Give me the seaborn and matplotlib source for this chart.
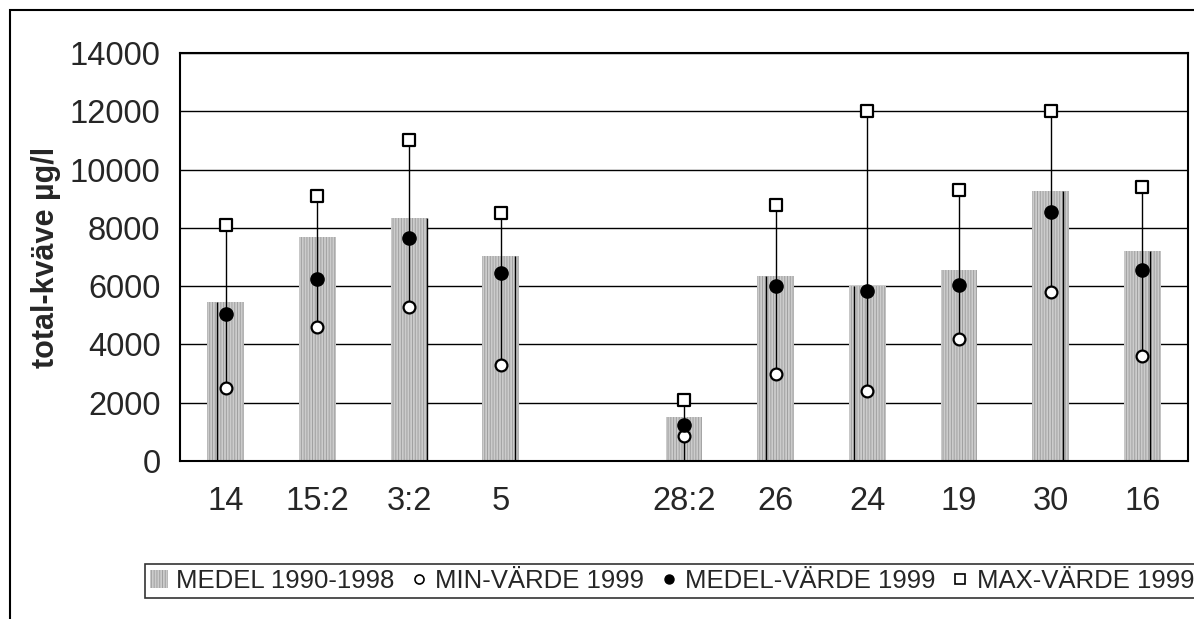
import matplotlib
matplotlib.use("Agg")
import matplotlib.pyplot as plt
import seaborn as sns
import pandas as pd
import numpy as np
from matplotlib.patches import Patch, Rectangle
from matplotlib.lines import Line2D

# ---- data ----
order = ["14", "15:2", "3:2", "5", " ", "28:2", "26", "24", "19", "30", "16"]
stations = ["14", "15:2", "3:2", "5", "28:2", "26", "24", "19", "30", "16"]
medel_90_98 = [5450, 7700, 8350, 7050, 1500, 6350, 6000, 6550, 9250, 7200]
min_1999 = [2500, 4600, 5300, 3300, 870, 3000, 2400, 4200, 5800, 3600]
medel_1999 = [5030, 6250, 7650, 6450, 1250, 6000, 5850, 6050, 8550, 6550]
max_1999 = [8100, 9100, 11000, 8500, 2100, 8800, 12000, 9300, 12000, 9400]
yticks = [0, 2000, 4000, 6000, 8000, 10000, 12000, 14000]
ylabel = "total-kväve µg/l"
legend_labels = ["MEDEL 1990-1998", "MIN-VÄRDE 1999", "MEDEL-VÄRDE 1999", "MAX-VÄRDE 1999"]

# style only: horizontal offsets of the dark drop lines inside the bars (fraction of slot)
drop_offsets = [-0.10, None, 0.20, 0.16, 0.0, -0.11, -0.15, None, 0.14, 0.08]

df = pd.DataFrame({"station": stations, "medel": medel_90_98, "min": min_1999,
                   "mean": medel_1999, "max": max_1999})

sns.set_theme(style="white")
plt.rcParams["font.family"] = ["Liberation Sans", "DejaVu Sans"]
plt.rcParams["hatch.linewidth"] = 0.7
plt.rcParams["hatch.color"] = "#a0a0a0"

fig = plt.figure(figsize=(11.94, 6.19), dpi=100)
ax = fig.add_axes([180 / 1194, 1 - 461 / 619, 1008 / 1194, 408 / 619])

sns.barplot(data=df, x="station", y="medel", order=order, ax=ax, width=0.4,
            color="#cccccc", saturation=1, linewidth=0, zorder=2)
for p in ax.patches:
    p.set_hatch("||||||")
    p.set_edgecolor("#a0a0a0")
    p.set_linewidth(0)

pos = {c: i for i, c in enumerate(order)}
xs = np.array([pos[s] for s in stations])

# drop lines inside bars
for x, off, h, lo in zip(xs, drop_offsets, medel_90_98, min_1999):
    if off is None:
        continue
    top = lo if off == 0.0 else h
    ax.vlines(x + off, 0, top, color="black", linewidth=1.0, zorder=3)

# high-low lines
ax.vlines(xs, min_1999, max_1999, color="black", linewidth=1.0, zorder=3)

sns.stripplot(data=df, x="station", y="min", order=order, jitter=False, ax=ax,
              marker="o", color="white", edgecolor="black", linewidth=1.6, size=8.5, zorder=4)
sns.stripplot(data=df, x="station", y="mean", order=order, jitter=False, ax=ax,
              marker="o", color="black", edgecolor="black", linewidth=1.0, size=9.5, zorder=4)
sns.stripplot(data=df, x="station", y="max", order=order, jitter=False, ax=ax,
              marker="s", color="white", edgecolor="black", linewidth=1.6, size=8.5, zorder=4)

ax.set_ylim(0, 14000)
ax.set_xlim(-0.5, len(order) - 0.5)
ax.set_yticks(yticks)
ax.set_yticklabels([str(v) for v in yticks], fontsize=23.5)
ax.tick_params(axis="x", labelsize=23.5, pad=18, length=0)
ax.tick_params(axis="y", pad=14, length=0)
ax.set_xlabel("")
ax.set_ylabel(ylabel, fontsize=22, fontweight="bold", labelpad=6)
ax.yaxis.grid(True, color="black", linewidth=1.0)
ax.xaxis.grid(False)
ax.set_axisbelow(True)
for s in ax.spines.values():
    s.set_color("black")
    s.set_linewidth(1.5)

handles = [
    Patch(facecolor="#cccccc", hatch="||||||", edgecolor="#a0a0a0", linewidth=0),
    Line2D([], [], marker="o", linestyle="", markerfacecolor="white", markeredgecolor="black", markersize=6.5, markeredgewidth=1.2),
    Line2D([], [], marker="o", linestyle="", markerfacecolor="black", markeredgecolor="black", markersize=6.5),
    Line2D([], [], marker="s", linestyle="", markerfacecolor="white", markeredgecolor="black", markersize=6.5, markeredgewidth=1.2),
]
leg = fig.legend(handles, legend_labels, loc="upper left", bbox_to_anchor=(145 / 1194, 1 - 564 / 619),
                 ncol=4, fontsize=18.5, frameon=True, fancybox=False, handlelength=0.7,
                 handletextpad=0.3, columnspacing=0.6, borderpad=0.2, borderaxespad=0)
leg.get_frame().set_edgecolor("black")
leg.get_frame().set_linewidth(1.2)

fig.patches.append(Rectangle((10 / 1194, -0.1), 1.2, 1.1 - 10 / 619, transform=fig.transFigure,
                             fill=False, edgecolor="black", linewidth=1.5, clip_on=False))

fig.savefig("out.png", dpi=100)
